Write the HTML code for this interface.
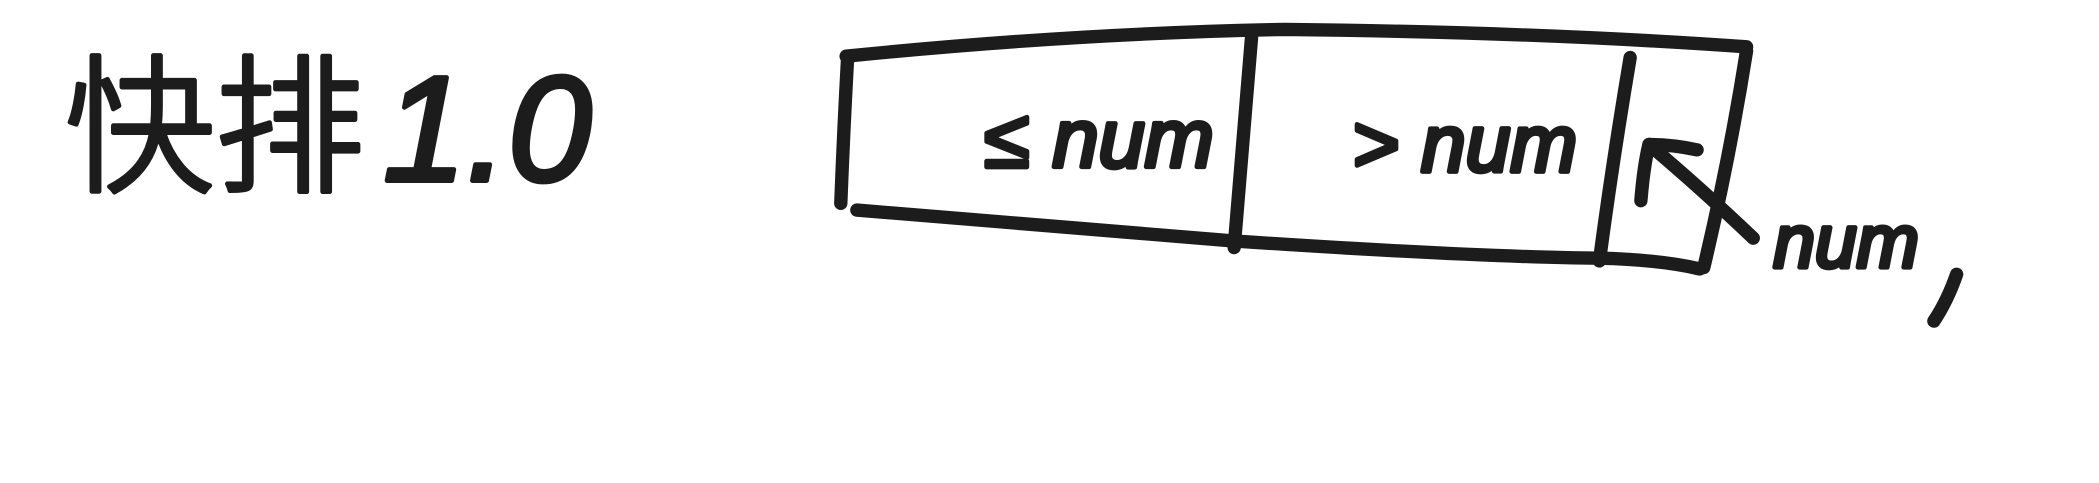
<!DOCTYPE html>
<html>
<head>
<meta charset="utf-8">
<style>
  html,body{margin:0;padding:0;background:#fff;}
  svg{display:block;}
  .ink{fill:none;stroke:#1c1c1c;stroke-width:10;stroke-linecap:round;stroke-linejoin:round;}
  .hw{font-family:"Liberation Sans","Noto Sans CJK SC",sans-serif;fill:#1c1c1c;stroke:#1c1c1c;stroke-width:3.5;font-style:italic;stroke-linejoin:round;}
</style>
</head>
<body>
<svg width="2099" height="483" viewBox="0 0 1568 361" xmlns="http://www.w3.org/2000/svg">
  <rect x="0" y="0" width="1568" height="361" fill="#ffffff"/>

  <text class="hw" x="48" y="135" font-size="112" style="font-style:normal;font-weight:300" stroke-width="5">快排<tspan font-family="Liberation Sans" font-style="italic" dx="14">1.0</tspan></text>

  <g>
    <path class="ink" d="M632 42 Q800 25 960 22 Q1150 24 1305 35"/>
    <path class="ink" d="M640 157 Q800 170 920 180 Q1100 192 1195 193 Q1240 194 1270 201"/>
    <path class="ink" d="M633 45 Q630 100 628 152"/>
    <path class="ink" d="M1305 38 Q1292 120 1273 200"/>
    <path class="ink" d="M935 28 Q928 110 922 185"/>
    <path class="ink" d="M1218 43 Q1205 120 1195 195"/>
  </g>

  <text class="hw" x="735" y="125" font-size="62">≤ num</text>
  <text class="hw" x="1010" y="128" font-size="60">&gt; num</text>

  <g>
    <path class="ink" d="M1310 178 Q1270 140 1232 108"/>
    <path class="ink" d="M1226 150 Q1228 125 1232 108 Q1250 108 1268 112"/>
  </g>
  <text class="hw" x="1325" y="200" font-size="56">num</text>
  <path class="ink" d="M1462 205 Q1455 225 1445 240" stroke-width="8"/>
</svg>
</body>
</html>
